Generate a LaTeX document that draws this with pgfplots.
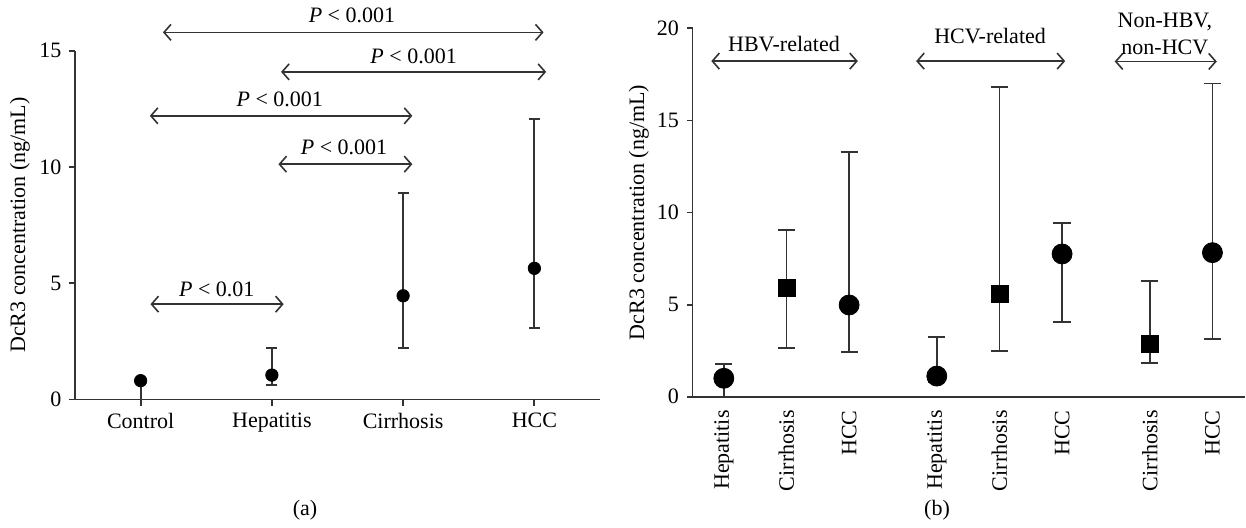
\documentclass[border=0pt]{standalone}
\usepackage{fontspec}
\setmainfont{Liberation Serif}
\usepackage{pgfplots}
\pgfplotsset{compat=1.18}
\usetikzlibrary{arrows.meta}
\definecolor{ln}{gray}{0.2}
\tikzset{arr/.style={ln, line width=0.8pt, {Straight Barb[length=3.5pt,width=8pt]}-{Straight Barb[length=3.5pt,width=8pt]}}}
\begin{document}
\fontsize{11pt}{13.2pt}\selectfont
\begin{tikzpicture}
\path[use as bounding box] (0pt,0pt) rectangle (623pt,263.5pt);
\pgfplotsset{
  base/.style={
    scale only axis, axis lines=left,
    axis line style={-, ln, line width=0.9pt},
    tick style={ln, line width=0.9pt},
    tick align=outside, major tick length=3pt,
    /pgf/number format/assume math mode=true,
    clip=false,
    ylabel={DcR3 concentration (ng/mL)},
  },
}
% ---------------- (a)
\begin{axis}[base,
  at={(37.5pt,63.75pt)}, anchor=south west,
  width=262.5pt, height=174.4pt,
  xmin=-0.5, xmax=3.5, ymin=0, ymax=15,
  xtick={0,1,2,3}, xticklabels={Control,Hepatitis,Cirrhosis,HCC},
  ytick={0,5,10,15},
  ylabel style={at={(axis description cs:-0.105,0.5)}, anchor=center},
]
\addplot[only marks, mark=*, mark size=3.1pt, black,
  error bars/.cd, y dir=both, y explicit,
  error bar style={ln, line width=0.9pt},
  error mark options={rotate=90, mark size=2.7pt, ln, line width=0.9pt}]
coordinates {
  (0,0.81) += (0,0.05) -= (0,0.81)
  (1,1.05) += (0,1.18) -= (0,0.43)
  (2,4.46) += (0,4.43) -= (0,2.23)
  (3,5.64) += (0,6.43) -= (0,2.58)
};
\draw[arr] (axis cs:0.17,15.79) -- (axis cs:3.07,15.79);
\node at (axis cs:1.61,16.5) {\textit{P} < 0.001};
\draw[arr] (axis cs:1.07,14.09) -- (axis cs:3.09,14.09);
\node at (axis cs:2.08,14.75) {\textit{P} < 0.001};
\draw[arr] (axis cs:0.07,12.2) -- (axis cs:2.07,12.2);
\node at (axis cs:1.06,12.92) {\textit{P} < 0.001};
\draw[arr] (axis cs:1.05,10.12) -- (axis cs:2.07,10.12);
\node at (axis cs:1.55,10.83) {\textit{P} < 0.001};
\draw[arr] (axis cs:0.075,4.1) -- (axis cs:1.09,4.1);
\node at (axis cs:0.58,4.74) {\textit{P} < 0.01};
\end{axis}
% ---------------- (b)
\begin{axis}[base,
  at={(346.25pt,65.15pt)}, anchor=south west,
  width=276.25pt, height=184.2pt,
  xmin=-0.5, xmax=8.32, ymin=0, ymax=20,
  xtick={0,1,2,3.4,4.4,5.4,6.8,7.8},
  xticklabels={Hepatitis,Cirrhosis,HCC,Hepatitis,Cirrhosis,HCC,Cirrhosis,HCC},
  x tick label style={rotate=90, anchor=east},
  xtick style={draw=none},
  ytick={0,5,10,15,20},
  ylabel style={at={(axis description cs:-0.097,0.5)}, anchor=center},
]
\addplot[only marks, mark=*, mark size=5pt, black,
  error bars/.cd, y dir=both, y explicit,
  error bar style={ln, line width=0.9pt},
  error mark options={rotate=90, mark size=4.3pt, ln, line width=0.9pt}]
coordinates {
  (0,1.0) += (0,0.76) -= (0,1.0)
  (2,4.98) += (0,8.32) -= (0,2.54)
  (3.4,1.12) += (0,2.10) -= (0,0.32)
  (5.4,7.75) += (0,1.70) -= (0,3.69)
  (7.8,7.82) += (0,9.18) -= (0,4.70)
};
\addplot[only marks, mark=square*, mark size=4.25pt, black,
  error bars/.cd, y dir=both, y explicit,
  error bar style={ln, line width=0.9pt},
  error mark options={rotate=90, mark size=4.3pt, ln, line width=0.9pt}]
coordinates {
  (1,5.88) += (0,3.15) -= (0,3.22)
  (4.4,5.57) += (0,11.26) -= (0,3.07)
  (6.8,2.84) += (0,3.44) -= (0,1.03)
};
\draw[arr] (axis cs:-0.2,18.22) -- (axis cs:2.14,18.22);
\node at (axis cs:0.96,19.13) {HBV-related};
\draw[arr] (axis cs:3.07,18.22) -- (axis cs:5.45,18.22);
\node at (axis cs:4.25,19.58) {HCV-related};
\draw[arr] (axis cs:6.24,18.2) -- (axis cs:7.87,18.2);
\node[align=center, inner sep=0pt] at (axis cs:7.04,19.7) {Non-HBV,\\non-HCV};
\end{axis}
\node at (152.5pt,8.5pt) {(a)};
\node at (468.5pt,8.5pt) {(b)};
\end{tikzpicture}
\end{document}
